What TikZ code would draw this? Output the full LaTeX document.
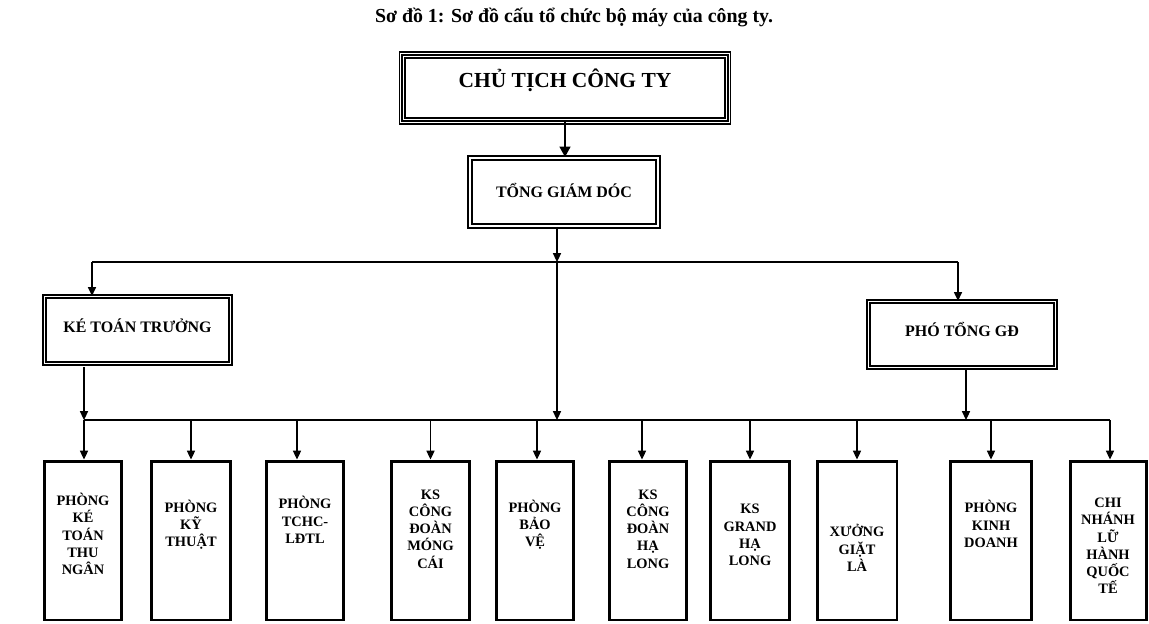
\documentclass[tikz,border=0pt]{standalone}
\usepackage{fontspec}
\setmainfont{Liberation Serif}
\usetikzlibrary{arrows.meta}
\tikzset{
  titletext/.style={
    inner sep=0pt,
    font=\bfseries\fontsize{11.3}{13}\selectfont
  },
  chairbox/.style={
    rectangle,
    draw=black,
    line width=1.3pt,
    preaction={draw=black, line width=4pt},
    preaction={draw=white, line width=2.6pt},
    inner sep=0pt,
    text height=8pt,
    text depth=9pt,
    font=\bfseries\fontsize{12.2}{14}\selectfont
  },
  headbox/.style={
    rectangle,
    draw=black,
    line width=0.7pt,
    double,
    double distance=1.1pt,
    inner sep=0pt,
    font=\bfseries\fontsize{9.1}{11}\selectfont
  },
  unitbox/.style={
    rectangle,
    draw=black,
    line width=1.7pt,
    minimum height=3.18cm,
    inner sep=0pt
  },
  unittext/.style={
    align=center,
    inner sep=0pt,
    font=\bfseries\fontsize{8.2}{9.8}\selectfont
  },
  busline/.style={line width=0.6pt},
  arrow/.style={-{Triangle[length=5pt, width=4.6pt]}, line width=0.6pt},
  bigarrow/.style={-{Triangle[length=6pt, width=6pt]}, line width=1.6pt}
}

\begin{document}
\begin{tikzpicture}[x=0.02cm, y=-0.02cm]
  \useasboundingbox (0,0) rectangle (1149,623);

  \node[titletext] (title) at (574,17) {Sơ đồ 1: Sơ đồ cấu tổ chức bộ máy của công ty.};

  % upper levels
  \node[chairbox, minimum width=6.52cm, minimum height=1.32cm] (chutich) at (565,88) {CHỦ TỊCH CÔNG TY};
  \node[headbox, line width=1pt, minimum width=3.76cm, minimum height=1.36cm, text height=8pt, text depth=2pt] (tonggd) at (564,192) {TỔNG GIÁM DÓC};
  \node[headbox, minimum width=3.72cm, minimum height=1.34cm, text height=7pt, text depth=4.4pt] (ketoan) at (137.5,330) {KÉ TOÁN TRƯỞNG};
  \node[headbox, minimum width=3.74cm, minimum height=1.32cm, text height=7pt, text depth=4.4pt] (photgd) at (962,334.5) {PHÓ TỔNG GĐ};

  % units
  \node[unitbox, minimum width=1.54cm] (unit1) at (83,540.5) {};
  \node[unitbox, minimum width=1.58cm] (unit2) at (191,540.5) {};
  \node[unitbox, minimum width=1.54cm] (unit3) at (305,540.5) {};
  \node[unitbox, minimum width=1.56cm] (unit4) at (430.5,540.5) {};
  \node[unitbox, minimum width=1.54cm] (unit5) at (535,540.5) {};
  \node[unitbox, minimum width=1.54cm] (unit6) at (648,540.5) {};
  \node[unitbox, minimum width=1.58cm] (unit7) at (750,540.5) {};
  \node[unitbox, minimum width=1.60cm] (unit8) at (857,540.5) {};
  \node[unitbox, minimum width=1.62cm] (unit9) at (991,540.5) {};
  \node[unitbox, minimum width=1.52cm] (unit10) at (1108,540.5) {};

  \node[unittext] (unit1txt) at (83,534) {PHÒNG\\KÉ\\TOÁN\\THU\\NGÂN};
  \node[unittext] (unit2txt) at (191,525) {PHÒNG\\KỸ\\THUẬT};
  \node[unittext] (unit3txt) at (305,520) {PHÒNG\\TCHC-\\LĐTL};
  \node[unittext] (unit4txt) at (430.5,529) {KS\\CÔNG\\ĐOÀN\\MÓNG\\CÁI};
  \node[unittext] (unit5txt) at (535,525) {PHÒNG\\BẢO\\VỆ};
  \node[unittext] (unit6txt) at (648,529) {KS\\CÔNG\\ĐOÀN\\HẠ\\LONG};
  \node[unittext] (unit7txt) at (750,535) {KS\\GRAND\\HẠ\\LONG};
  \node[unittext] (unit8txt) at (857,548) {XƯỞNG\\GIẶT\\LÀ};
  \node[unittext] (unit9txt) at (991,524) {PHÒNG\\KINH\\DOANH};
  \node[unittext] (unit10txt) at (1108,546) {CHI\\NHÁNH\\LỮ\\HÀNH\\QUỐC\\TẾ};

  % bus points
  \coordinate (busL) at (92,262);
  \coordinate (busM) at (557,262);
  \coordinate (busR) at (958,262);
  \coordinate (lowL) at (84,420);
  \coordinate (lowM) at (557,420);
  \coordinate (lowR) at (966,420);
  \coordinate (lowE) at (1110,420);

  \draw[bigarrow] (chutich.south) -- (chutich.south |- tonggd.north);
  \draw[arrow] (busM |- tonggd.south) -- (busM);
  \draw[busline] (busL) -- (busR);
  \draw[arrow] (busL) -- (busL |- ketoan.north);
  \draw[arrow] (busR) -- (busR |- photgd.north);
  \draw[arrow] (busM) -- (lowM);
  \draw[arrow] ([yshift=-0.06cm]lowL |- ketoan.south) -- (lowL);
  \draw[arrow] (lowR |- photgd.south) -- (lowR);
  \draw[busline] (lowL) -- (lowE);

  \draw[arrow] (lowL) -- (lowL |- unit1.north);
  \draw[arrow] (unit2.north |- lowL) -- (unit2.north);
  \draw[arrow] ([xshift=-0.16cm]unit3.north |- lowL) -- ([xshift=-0.16cm]unit3.north);
  \draw[arrow] (unit4.north |- lowL) -- (unit4.north);
  \draw[arrow] ([xshift=0.04cm]unit5.north |- lowL) -- ([xshift=0.04cm]unit5.north);
  \draw[arrow] ([xshift=-0.12cm]unit6.north |- lowL) -- ([xshift=-0.12cm]unit6.north);
  \draw[arrow] (unit7.north |- lowL) -- (unit7.north);
  \draw[arrow] (unit8.north |- lowL) -- (unit8.north);
  \draw[arrow] (unit9.north |- lowL) -- (unit9.north);
  \draw[arrow] (lowE) -- (lowE |- unit10.north);
\end{tikzpicture}
\end{document}
